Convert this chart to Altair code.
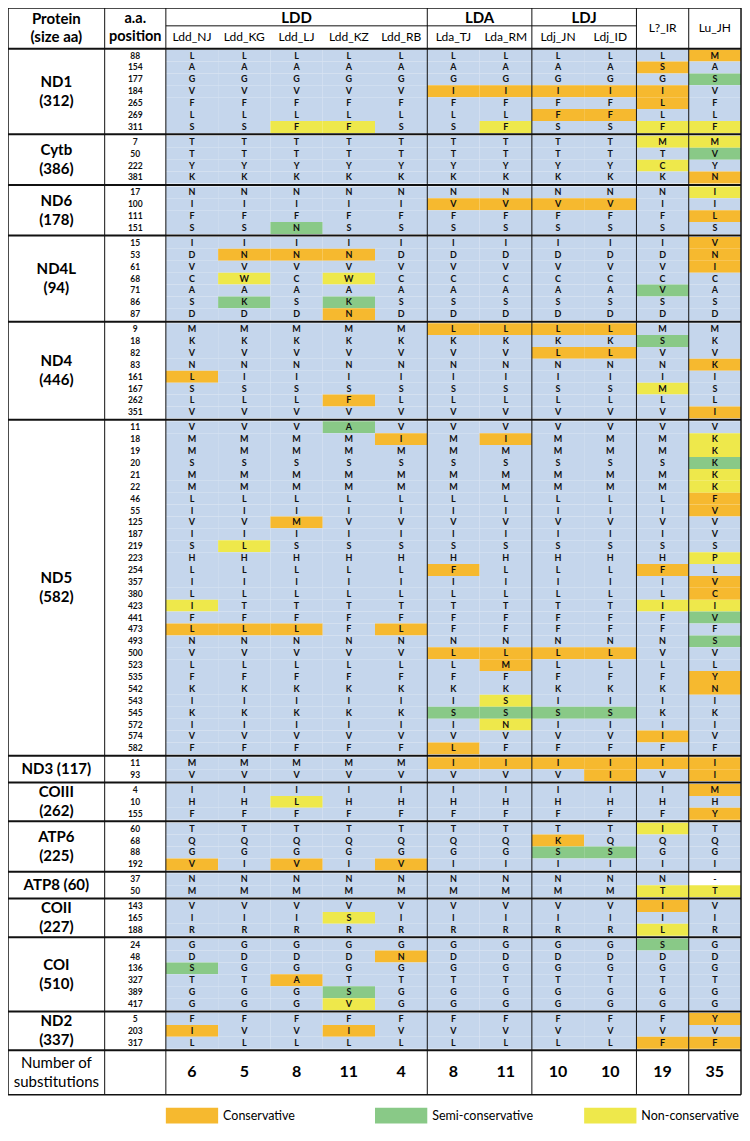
import altair as alt
import pandas as pd

# ------------------------------------------------------------------ data
SPECIES = ["Ldd_NJ", "Ldd_KG", "Ldd_LJ", "Ldd_KZ", "Ldd_RB",
           "Lda_TJ", "Lda_RM", "Ldj_JN", "Ldj_ID", "L?_IR", "Lu_JH"]
SPECIES_GROUPS = ["LDD", "LDA", "LDJ"]
GROUP_SPANS = [(0, 5), (5, 7), (7, 9)]          # species index ranges of each group

PROTEIN_LABELS = ["ND1\n(312)", "Cytb\n(386)", "ND6\n(178)", "ND4L\n(94)", "ND4\n(446)",
                  "ND5\n(582)", "ND3 (117)", "COIII\n(262)", "ATP6\n(225)", "ATP8 (60)",
                  "COII\n(227)", "COI\n(510)", "ND2\n(337)"]

POSITIONS = [
    [88, 154, 177, 184, 265, 269, 311],
    [7, 50, 222, 381],
    [17, 100, 111, 151],
    [15, 53, 61, 68, 71, 86, 87],
    [9, 18, 82, 83, 161, 167, 262, 351],
    [11, 18, 19, 20, 21, 22, 46, 55, 125, 187, 219, 223, 254, 357, 380, 423, 441, 473,
     493, 500, 523, 535, 542, 543, 545, 572, 574, 582],
    [11, 93],
    [4, 10, 155],
    [60, 68, 88, 192],
    [37, 50],
    [143, 165, 188],
    [24, 48, 136, 327, 389, 417],
    [5, 203, 317],
]

# residues, one character per species (order of SPECIES)
RESIDUES = [
    ["LLLLLLLLLLM", "AAAAAAAAASA", "GGGGGGGGGGS", "VVVVVIIIIIV", "FFFFFFFFFLF", "LLLLLLLFFLL", "SSFFSSFSSFF"],
    ["TTTTTTTTTMM", "TTTTTTTTTTV", "YYYYYYYYYCY", "KKKKKKKKKKN"],
    ["NNNNNNNNNNI", "IIIIIVVVVII", "FFFFFFFFFFL", "SSNSSSSSSSS"],
    ["IIIIIIIIIIV", "DNNNDDDDDDN", "VVVVVVVVVVI", "CWCWCCCCCCC", "AAAAAAAAAVA", "SKSKSSSSSSS", "DDDNDDDDDDD"],
    ["MMMMMLLLLMM", "KKKKKKKKKSK", "VVVVVVVLLVV", "NNNNNNNNNNK", "LIIIIIIIIII", "SSSSSSSSSMS", "LLLFLLLLLLL", "VVVVVVVVVVI"],
    ["VVVAVVVVVVV", "MMMMIMIMMMK", "MMMMMMMMMMK", "SSSSSSSSSSK", "MMMMMMMMMMK", "MMMMMMMMMMK", "LLLLLLLLLLF",
     "IIIIIIIIIIV", "VVMVVVVVVVV", "IIIIIIIIIIV", "SLSSSSSSSSS", "HHHHHHHHHHP", "LLLLLFLLLFL", "IIIIIIIIIIV",
     "LLLLLLLLLLC", "ITTTTTTTTII", "FFFFFFFFFFV", "LLLFLFFFFFF", "NNNNNNNNNNS", "VVVVVLLLLVV", "LLLLLLMLLLL",
     "FFFFFFFFFFY", "KKKKKKKKKKN", "IIIIIISIIII", "KKKKKSSSSKK", "IIIIIINIIII", "VVVVVVVVVIV", "FFFFFLFFFFF"],
    ["MMMMMIIIIII", "VVVVVVVVIVI"],
    ["IIIIIIIIIIM", "HHLHHHHHHHH", "FFFFFFFFFFY"],
    ["TTTTTTTTTIT", "QQQQQQQKQQQ", "GGGGGGGSSGG", "VIVIVIIIIII"],
    ["NNNNNNNNNN-", "MMMMMMMMMTT"],
    ["VVVVVVVVVIV", "IIISIIIIIII", "RRRRRRRRRLR"],
    ["GGGGGGGGGSG", "DDDDNDDDDDD", "SGGGGGGGGGG", "TTATTTTTTTT", "GGGSGGGGGGG", "GGGVGGGGGGG"],
    ["FFFFFFFFFFY", "IVVIVVVVVVV", "LLLLLLLLLFF"],
]

# substitution class per cell: . none, O conservative, G semi-conservative, Y non-conservative, W no data
SUBST = [
    ["..........O", ".........O.", "..........G", ".....OOOOO.", ".........O.", ".......OO..", "..YY..Y..YY"],
    [".........YY", "..........G", ".........Y.", "..........O"],
    ["..........Y", ".....OOOO..", "..........O", "..G........"],
    ["..........O", ".OOO......O", "..........O", ".Y.Y.......", ".........G.", ".G.G.......", "...O......."],
    [".....OOOO..", ".........G.", ".......OO..", "..........O", "O..........", ".........Y.", "...O.......", "..........O"],
    ["...G.......", "....O.O...Y", "..........Y", "..........G", "..........Y", "..........Y", "..........O",
     "..........O", "..O........", "...........", ".Y.........", "..........Y", ".....O...O.", "..........O",
     "..........O", "Y........YY", "..........G", "OOO.O......", "..........G", ".....OOOO..", "......O....",
     "..........O", "..........O", "......Y....", ".....GGGG..", "......Y....", ".........O.", ".....O....."],
    [".....OOOOOO", "........O.O"],
    ["..........O", "..Y........", "..........O"],
    [".........Y.", ".......O...", ".......GG..", "O.O.O......"],
    ["..........W", ".........YY"],
    [".........O.", "...Y.......", ".........Y."],
    [".........G.", "....O......", "G..........", "..O........", "...G.......", "...Y......."],
    ["..........O", "O..O.......", ".........OO"],
]

NUM_SUBS = [6, 5, 8, 11, 4, 8, 11, 10, 10, 19, 35]

CATEGORIES = ["None", "Conservative", "Semi-conservative", "Non-conservative", "Missing"]
CODE_TO_CAT = {".": "None", "O": "Conservative", "G": "Semi-conservative",
               "Y": "Non-conservative", "W": "Missing"}
CAT_COLORS = ["#C5D6EC", "#F6B92F", "#89C987", "#EEE84B", "#FFFFFF"]
LEGEND_ITEMS = ["Conservative", "Semi-conservative", "Non-conservative"]
LEGEND_COLS = [0, 4, 8]   # species column under which each legend swatch sits

# ------------------------------------------------------------------ layout constants
X_LEFT, PROT_W, POS_W, SP_W = 2, 98, 62, 53
X_POS = X_LEFT + PROT_W
X_SP = X_POS + POS_W
X_RIGHT = X_SP + SP_W * len(SPECIES)
Y_TOP, HDR_MID, HDR_BOT = 2, 20, 43
ROW_Y0, ROW_H, GAP = 50, 12, 3
NUM_ROW_H = 45
LEG_OFF, LEG_H = 13, 16
FONT = "Lato"


def split_lines(text, x, yc, lh, **extra):
    """One datum per text line, centred vertically around yc."""
    parts = text.split("\n")
    n = len(parts)
    return [dict(x=x, y=yc + (k - (n - 1) / 2) * lh, t=p, **extra) for k, p in enumerate(parts)]


# ------------------------------------------------------------------ build tables
cells, posrows, plabels, lines = [], [], [], []
i = 0
group_bottoms = []
for g, (plist, alist, slist) in enumerate(zip(POSITIONS, RESIDUES, SUBST)):
    first = None
    for p, aa, sb in zip(plist, alist, slist):
        yc = ROW_Y0 + ROW_H * i + GAP * g
        if first is None:
            first = yc
        last = yc
        posrows.append({"x": X_POS + POS_W / 2, "y": yc, "t": str(p)})
        for j, sp in enumerate(SPECIES):
            x0 = X_SP + j * SP_W
            cells.append({"x0": x0, "x1": x0 + SP_W, "xc": x0 + SP_W / 2,
                          "y0": yc - ROW_H / 2, "y1": yc + ROW_H / 2, "yc": yc,
                          "aa": aa[j], "cat": CODE_TO_CAT[sb[j]]})
        i += 1
    plabels += split_lines(PROTEIN_LABELS[g], X_LEFT + PROT_W / 2, (first + last) / 2, 19)
    group_bottoms.append(last + ROW_H / 2 + GAP / 2)

num_top = group_bottoms[-1]
y_bottom = num_top + NUM_ROW_H
num_mid = (num_top + y_bottom) / 2

# horizontal lines
lines.append({"x": X_LEFT, "x2": X_RIGHT, "y": Y_TOP, "y2": Y_TOP, "w": 1.5})
lines.append({"x": X_LEFT, "x2": X_RIGHT, "y": y_bottom, "y2": y_bottom, "w": 1.5})
lines.append({"x": X_SP, "x2": X_SP + SP_W * GROUP_SPANS[-1][1], "y": HDR_MID, "y2": HDR_MID, "w": 1})
lines.append({"x": X_LEFT, "x2": X_RIGHT, "y": HDR_BOT, "y2": HDR_BOT, "w": 2})
for yb in group_bottoms:
    lines.append({"x": X_LEFT, "x2": X_RIGHT, "y": yb, "y2": yb, "w": 2})
# vertical lines
vx = [X_LEFT, X_POS, X_SP] + [X_SP + SP_W * e for (_, e) in GROUP_SPANS] + [X_SP + SP_W * 10, X_RIGHT]
for k, xv in enumerate(vx):
    lines.append({"x": xv, "x2": xv, "y": Y_TOP, "y2": y_bottom,
                  "w": 1.5 if k in (0, len(vx) - 1) else 1})

# header texts
hdr = []
hdr += split_lines("Protein\n(size aa)", X_LEFT + PROT_W / 2, (Y_TOP + HDR_BOT) / 2, 18, s=15, b="bold")
hdr += split_lines("a.a.\nposition", X_POS + POS_W / 2, (Y_TOP + HDR_BOT) / 2, 18, s=14.5, b="bold")
for name, (s, e) in zip(SPECIES_GROUPS, GROUP_SPANS):
    hdr.append({"x": X_SP + SP_W * (s + e) / 2, "y": (Y_TOP + HDR_MID) / 2 + 1, "t": name, "s": 15, "b": "bold"})
for j, sp in enumerate(SPECIES):
    if j < GROUP_SPANS[-1][1]:
        yy = (HDR_MID + HDR_BOT) / 2
    else:
        yy = (Y_TOP + HDR_BOT) / 2
    hdr.append({"x": X_SP + SP_W * (j + 0.5), "y": yy, "t": sp, "s": 12, "b": "normal"})
hdr_df = pd.DataFrame(hdr)

nums = [{"x": X_SP + SP_W * (j + 0.5), "y": num_mid, "t": str(n)} for j, n in enumerate(NUM_SUBS)]
nums_label = split_lines("Number of\nsubstitutions", X_LEFT + PROT_W / 2, num_mid, 20)

leg_y0 = y_bottom + LEG_OFF
legend = []
for name, col in zip(LEGEND_ITEMS, LEGEND_COLS):
    x0 = X_SP + SP_W * col
    legend.append({"x0": x0, "x1": x0 + SP_W, "y0": leg_y0, "y1": leg_y0 + LEG_H,
                   "yc": leg_y0 + LEG_H / 2, "tx": x0 + SP_W + 5, "cat": name, "t": name})

cells_df = pd.DataFrame(cells)
pos_df = pd.DataFrame(posrows)
plab_df = pd.DataFrame(plabels)
lines_df = pd.DataFrame(lines)
nums_df = pd.DataFrame(nums)
nlab_df = pd.DataFrame(nums_label)
leg_df = pd.DataFrame(legend)

# ------------------------------------------------------------------ scales
W, H = 734, 1118
XS = alt.Scale(domain=[2, 746], range=[0, W], nice=False, zero=False)
YS = alt.Scale(domain=[2, 1130], range=[0, H], nice=False, zero=False)
CS = alt.Scale(domain=CATEGORIES, range=CAT_COLORS)


def X(f):
    return alt.X(f, type="quantitative", scale=XS, axis=None)


def Y(f):
    return alt.Y(f, type="quantitative", scale=YS, axis=None)


cell_rects = alt.Chart(cells_df).mark_rect(strokeWidth=0).encode(
    x=X("x0"), x2="x1", y=Y("y0"), y2="y1",
    color=alt.Color("cat:N", scale=CS, legend=None))

cell_text = alt.Chart(cells_df).mark_text(font=FONT, fontSize=9, fontWeight="bold", color="#111").encode(
    x=X("xc"), y=Y("yc"), text="aa:N")

pos_text = alt.Chart(pos_df).mark_text(font=FONT, fontSize=8.5, fontWeight="bold", color="#111").encode(
    x=X("x"), y=Y("y"), text="t:N")

prot_text = alt.Chart(plab_df).mark_text(font=FONT, fontSize=15, fontWeight="bold", color="#000").encode(
    x=X("x"), y=Y("y"), text="t:N")

rules = alt.Chart(lines_df).mark_rule(color="#111").encode(
    x=X("x"), x2="x2", y=Y("y"), y2="y2", strokeWidth=alt.StrokeWidth("w:Q", scale=None))

hdr_bold = alt.Chart(hdr_df).transform_filter("datum.b == 'bold'").mark_text(
    font=FONT, fontWeight="bold", color="#000").encode(
    x=X("x"), y=Y("y"), text="t:N", size=alt.Size("s:Q", scale=None))
hdr_norm = alt.Chart(hdr_df).transform_filter("datum.b == 'normal'").mark_text(
    font=FONT, color="#000").encode(
    x=X("x"), y=Y("y"), text="t:N", size=alt.Size("s:Q", scale=None))

num_text = alt.Chart(nums_df).mark_text(font=FONT, fontSize=16, fontWeight="bold", color="#000").encode(
    x=X("x"), y=Y("y"), text="t:N")
num_label = alt.Chart(nlab_df).mark_text(font=FONT, fontSize=15, color="#000").encode(
    x=X("x"), y=Y("y"), text="t:N")

leg_rects = alt.Chart(leg_df).mark_rect(strokeWidth=0).encode(
    x=X("x0"), x2="x1", y=Y("y0"), y2="y1",
    color=alt.Color("cat:N", scale=CS, legend=None))
leg_text = alt.Chart(leg_df).mark_text(font=FONT, fontSize=12.5, align="left", color="#000").encode(
    x=X("tx"), y=Y("yc"), text="t:N")

chart = alt.layer(
    cell_rects, cell_text, pos_text, prot_text, hdr_bold, hdr_norm, num_text, num_label,
    leg_rects, leg_text, rules
).properties(
    width=W, height=H, padding=0, autosize=alt.AutoSizeParams(type="none")
).configure_view(stroke=None)

chart.save("out.html", embed_options={"renderer": "svg", "actions": False})
